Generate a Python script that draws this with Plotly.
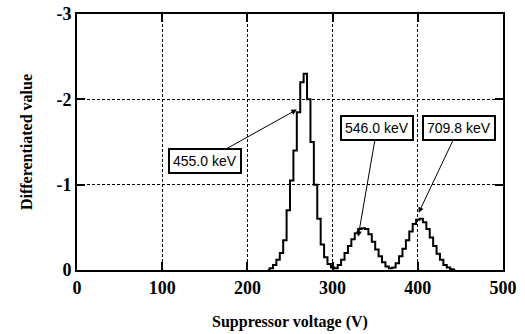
import plotly.graph_objects as go

voltage = [224, 228, 232, 236, 240, 244, 248, 252, 256, 260, 264, 268, 272, 276, 280,
           284, 288, 292, 296, 300, 304, 308, 312, 316, 320, 324, 328, 332, 336, 340,
           344, 348, 352, 356, 360, 364, 368, 372, 376, 380, 384, 388, 392, 396, 400,
           404, 408, 412, 416, 420, 424, 428, 432, 436, 440, 444]
diff_value = [0.0, -0.02, -0.06, -0.12, -0.20, -0.35, -0.70, -1.05, -1.40, -1.85, -2.20, -2.30,
              -2.00, -1.50, -1.00, -0.60, -0.30, -0.15, -0.07, -0.03, -0.02, -0.06, -0.12,
              -0.20, -0.28, -0.36, -0.43, -0.48, -0.49, -0.48, -0.42, -0.33, -0.24, -0.16,
              -0.09, -0.04, -0.02, -0.03, -0.08, -0.16, -0.25, -0.35, -0.45, -0.54, -0.59,
              -0.60, -0.56, -0.48, -0.38, -0.28, -0.19, -0.12, -0.06, -0.03, -0.01, 0.0]

x_ticks = [0, 100, 200, 300, 400, 500]
x_ticktext = ["0", "100", "200", "300", "400", "500"]
y_ticks = [-3, -2, -1, 0]
y_ticktext = ["-3", "-2", "-1", "0"]

labels = ["455.0 keV", "546.0 keV", "709.8 keV"]
label_target_x = [258, 330, 401]
label_target_y = [-1.88, -0.39, -0.67]
label_box_x = [150, 352, 448]
label_box_y = [-1.28, -1.66, -1.66]

fig = go.Figure()
fig.add_trace(go.Scatter(x=voltage, y=diff_value, mode="lines",
                         line=dict(color="black", width=2, shape="hvh"),
                         showlegend=False))

for t, tx, ty, bx, by in zip(labels, label_target_x, label_target_y, label_box_x, label_box_y):
    fig.add_annotation(x=tx, y=ty, ax=bx, ay=by, axref="x", ayref="y", xref="x", yref="y",
                       text=t, showarrow=True, arrowhead=2, arrowsize=1.1, arrowwidth=1,
                       arrowcolor="black", bordercolor="black", borderwidth=2, borderpad=3,
                       bgcolor="white",
                       font=dict(family="Liberation Sans, Arial", size=14, color="black"))

axis_common = dict(showline=True, linecolor="black", linewidth=2, mirror="ticks",
                   ticks="inside", ticklen=8, tickwidth=1.5, tickcolor="black",
                   showgrid=True, gridcolor="black", gridwidth=1, griddash="3px,2px",
                   zeroline=False, automargin=False,
                   tickfont=dict(family="Liberation Serif, Times New Roman", size=18,
                                 color="black", weight="bold"))

fig.update_xaxes(range=[0, 500], tickvals=x_ticks, ticktext=x_ticktext,
                 title=dict(text="Suppressor voltage (V)", standoff=19,
                            font=dict(family="Liberation Serif, Times New Roman", size=16,
                                      color="black", weight="bold")),
                 **axis_common)
fig.update_yaxes(range=[0, -3], tickvals=y_ticks, ticktext=y_ticktext,
                 title=dict(text="Differentiated value", standoff=20,
                            font=dict(family="Liberation Serif, Times New Roman", size=16,
                                      color="black", weight="bold")),
                 **axis_common)

fig.update_layout(width=525, height=334, margin=dict(l=77, r=22, t=14, b=64),
                  paper_bgcolor="white", plot_bgcolor="white",
                  font=dict(family="Liberation Serif", color="black"))

fig.write_html("out.html")
